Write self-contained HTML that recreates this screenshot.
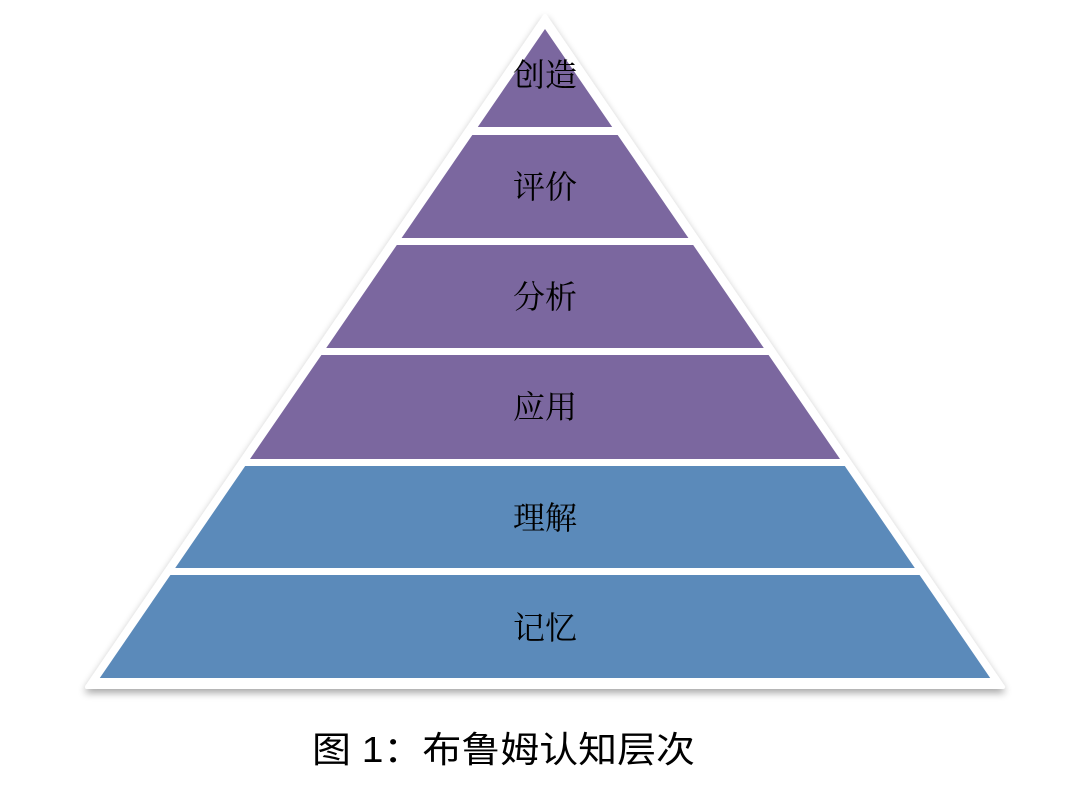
<!DOCTYPE html>
<html><head><meta charset="utf-8"><style>
html,body{margin:0;padding:0;background:#fff;}
svg{display:block;}
text{font-family:"Liberation Serif","Noto Serif CJK SC","Noto Sans CJK SC",serif;fill:#000;}
</style></head><body>
<svg width="1080" height="801" viewBox="0 0 1080 801" xmlns="http://www.w3.org/2000/svg">
<defs>
<filter id="sh" x="-10%" y="-10%" width="120%" height="130%">
<feGaussianBlur in="SourceAlpha" stdDeviation="4"/>
<feOffset dx="0" dy="4" result="b"/>
<feComponentTransfer><feFuncA type="linear" slope="0.35"/></feComponentTransfer>
<feMerge><feMergeNode/><feMergeNode in="SourceGraphic"/></feMerge>
</filter>
</defs>
<polygon points="545,16 1003,687 87,687" fill="#fff" stroke="#fff" stroke-width="4" stroke-linejoin="round" filter="url(#sh)"/>
<polygon points="545,29 612.2,127 477.8,127" fill="#7B679F"/>
<polygon points="472.3,135 617.7,135 688.4,238 401.6,238" fill="#7B679F"/>
<polygon points="396.8,245 693.2,245 763.8,348 326.2,348" fill="#7B679F"/>
<polygon points="321.4,355 768.6,355 840,459 250,459" fill="#7B679F"/>
<polygon points="245.2,466 844.8,466 914.8,568 175.2,568" fill="#5B8ABA"/>
<polygon points="170.4,575 919.6,575 990.2,678 99.8,678" fill="#5B8ABA"/>
<g font-size="32" text-anchor="middle">
<text x="545" y="86">创造</text>
<text x="545" y="198">评价</text>
<text x="545" y="308">分析</text>
<text x="545" y="418">应用</text>
<text x="545" y="529">理解</text>
<text x="545" y="639">记忆</text>
</g>
<text x="312" y="762" font-size="36" textLength="383" lengthAdjust="spacingAndGlyphs" style='font-family:"Liberation Sans","Noto Sans CJK SC",sans-serif'>图 1：布鲁姆认知层次</text>
</svg>
</body></html>
